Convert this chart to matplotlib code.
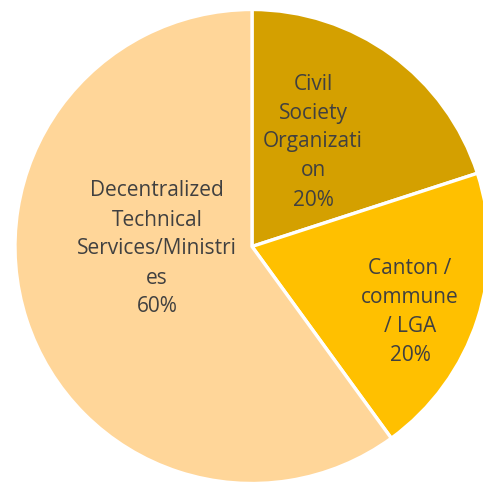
import matplotlib.pyplot as plt

# share of members by type
categories = ['Civil\nSociety\nOrganizati\non', 'Canton /\ncommune\n/ LGA',
              'Decentralized\nTechnical\nServices/Ministri\nes']
shares = [20, 20, 60]
colors = ['#D4A000', '#FFC000', '#FFD699']

# where each label sits (pixel coords on the figure, y from the top)
label_xy = [(313, 142), (410, 312), (157, 249)]

W, H = 483, 482
fig = plt.figure(figsize=(W / 100, H / 100), dpi=100)
ax = fig.add_axes([0, 0, 1, 1])

ax.pie(shares, colors=colors, startangle=90, counterclock=False,
       center=(252, H - 246.5), radius=237, frame=True,
       wedgeprops=dict(edgecolor='white', linewidth=2.4))
ax.set_xlim(0, W)
ax.set_ylim(0, H)
ax.set_aspect('equal')
ax.axis('off')

for cat, val, (x, y) in zip(categories, shares, label_xy):
    ax.text(x, H - y, '%s\n%d%%' % (cat, val), ha='center', va='center',
            fontsize=15, color='#404040', family='Open Sans', linespacing=1.5)

fig.savefig('out.png', dpi=100)
